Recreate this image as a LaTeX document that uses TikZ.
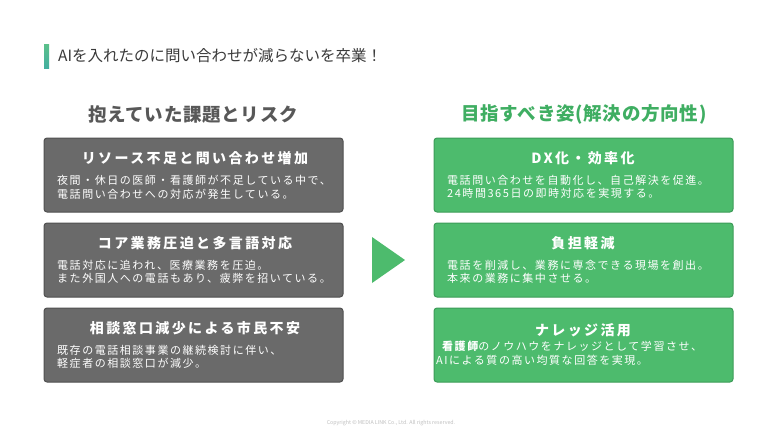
\documentclass[tikz,border=0pt]{standalone}
\usepackage{fontspec}
\setmainfont{Noto Sans CJK JP}
\newfontfamily\jpfont{Noto Sans CJK JP}
\newfontfamily\titlefont[LetterSpace=17]{Noto Sans CJK JP}
\newfontfamily\bodyfont[LetterSpace=14]{Noto Sans CJK JP}
\newfontfamily\headfont[LetterSpace=4]{Noto Sans CJK JP}
\definecolor{boxgray}{HTML}{6A6A6A}
\definecolor{boxgrayd}{HTML}{505050}
\definecolor{boxgreen}{HTML}{4DBB6D}
\definecolor{boxgreend}{HTML}{3C9C58}
\definecolor{headgreen}{HTML}{3FAE62}
\definecolor{headgray}{HTML}{585858}
\definecolor{textdark}{HTML}{3A3A3A}
\definecolor{barA}{HTML}{5BC08A}
\definecolor{barB}{HTML}{43AFA0}
\tikzset{
  x=1pt,y=-1pt,
  graybox/.style={draw=boxgrayd,fill=boxgray,line width=1pt,rounded corners=3pt},
  greenbox/.style={draw=boxgreend,fill=boxgreen,line width=1pt,rounded corners=3pt},
  boxtitle/.style={text=white,font=\titlefont\fontsize{14}{16}\selectfont\bfseries,anchor=center,inner sep=0pt},
  boxbody/.style={text=white,font=\bodyfont\fontsize{11}{13.5}\selectfont,anchor=north west,align=left,inner sep=0pt},
  heading/.style={font=\headfont\fontsize{18.5}{20}\selectfont\bfseries,anchor=center,inner sep=0pt},
}
\begin{document}
\begin{tikzpicture}
\useasboundingbox[fill=white] (0,0) rectangle (783,440);
% title bar
\shade[top color=barA,bottom color=barB] (44,44) rectangle (49,68);
\node[anchor=west,inner sep=0pt,text=textdark,font=\jpfont\fontsize{15.5}{17}\selectfont] (title) at (58,56) {AIを入れたのに問い合わせが減らないを卒業！};
% headings
\node[heading,text=headgray] (lh) at (193,114) {抱えていた課題とリスク};
\node[heading,text=headgreen] (rh) at (584,114) {目指すべき姿(解決の方向性)};
% left boxes
\draw[graybox] (44,138) rectangle (343,212);
\draw[graybox] (44,223) rectangle (343,297);
\draw[graybox] (44,308) rectangle (343,382);
\node[boxtitle] (l1t) at (195,158) {リソース不足と問い合わせ増加};
\node[boxbody] (l1b) at (57,175) {夜間・休日の医師・看護師が不足している中で、\\電話問い合わせへの対応が発生している。};
\node[boxtitle] (l2t) at (195,243) {コア業務圧迫と多言語対応};
\node[boxbody] (l2b) at (57,260) {電話対応に追われ、医療業務を圧迫。\\また外国人への電話もあり、疲弊を招いている。};
\node[boxtitle] (l3t) at (195,328) {相談窓口減少による市民不安};
\node[boxbody] (l3b) at (57,345) {既存の電話相談事業の継続検討に伴い、\\軽症者の相談窓口が減少。};
% right boxes
\draw[greenbox] (434,138) rectangle (733,212);
\draw[greenbox] (434,223) rectangle (733,297);
\draw[greenbox] (434,308) rectangle (733,382);
\node[boxtitle] (r1t) at (583,158) {DX化・効率化};
\node[boxbody] (r1b) at (447,175) {電話問い合わせを自動化し、自己解決を促進。\\24時間365日の即時対応を実現する。};
\node[boxtitle] (r2t) at (583,243) {負担軽減};
\node[boxbody] (r2b) at (447,260) {電話を削減し、業務に専念できる現場を創出。\\本来の業務に集中させる。};
\node[boxtitle] (r3t) at (583,330) {ナレッジ活用};
\node[boxbody] (r3b) at (442,341) {{\bfseries 看護師}のノウハウをナレッジとして学習させ、};
\node[boxbody] (r3c) at (436,355) {AIによる質の高い均質な回答を実現。};
% arrow triangle
\fill[boxgreen] (372,237) -- (405,260) -- (372,283) -- cycle;
% copyright
\node[inner sep=0pt,text=black!25,font=\jpfont\fontsize{5.3}{6}\selectfont] (copy) at (391,423) {Copyright © MEDIA LINK Co., Ltd. All rights reserved.};
\end{tikzpicture}
\end{document}
